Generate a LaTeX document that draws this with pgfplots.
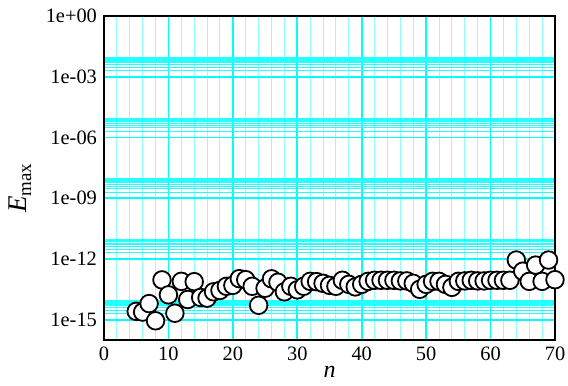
\documentclass[border=0pt]{standalone}
\usepackage{pgfplots}
\pgfplotsset{compat=1.18}
\usepackage{fontspec}
\setmainfont{Liberation Serif}
\definecolor{cy}{RGB}{0,255,255}
\pgfplotstableread{
n E
5 2.6e-15
6 2.4e-15
7 6.3e-15
8 8.9e-16
9 9.3e-14
10 1.7e-14
11 2.1e-15
12 7.9e-14
13 1.0e-14
14 7.6e-14
15 1.26e-14
16 1.17e-14
17 2.4e-14
18 2.8e-14
19 4.5e-14
20 5.0e-14
21 1.07e-13
22 9.5e-14
23 4.5e-14
24 5.2e-15
25 3.6e-14
26 1.05e-13
27 7.1e-14
28 2.4e-14
29 4.5e-14
30 3.0e-14
31 4.5e-14
32 7.9e-14
33 7.6e-14
34 6.3e-14
35 5.0e-14
36 4.5e-14
37 8.9e-14
38 5.6e-14
39 4.2e-14
40 5.6e-14
41 7.9e-14
42 8.9e-14
43 8.9e-14
44 8.9e-14
45 8.9e-14
46 8.3e-14
47 8.3e-14
48 6.3e-14
49 3.2e-14
50 5.6e-14
51 7.9e-14
52 7.9e-14
53 5.6e-14
54 4.0e-14
55 7.9e-14
56 8.3e-14
57 8.9e-14
58 8.3e-14
59 8.3e-14
60 8.9e-14
61 8.9e-14
62 8.9e-14
63 8.9e-14
64 8.9e-13
65 2.5e-13
66 7.9e-14
67 5.0e-13
68 7.9e-14
69 8.9e-13
70 9.5e-14
}\datatable
\begin{document}
\begin{tikzpicture}
\begin{axis}[
  scale only axis,
  width=225.5pt, height=162pt,
  ymode=log,
  xmin=0, xmax=70, ymin=1e-16, ymax=1,
  xtick={0,10,...,70},
  minor x tick num=4,
  ytick={1e-15,1e-12,1e-9,1e-6,1e-3,1},
  yticklabels={1e-15,1e-12,1e-09,1e-06,1e-03,1e+00},
  minor ytick={2e-15,3e-15,4e-15,5e-15,6e-15,7e-15,8e-15,9e-15,
               2e-12,3e-12,4e-12,5e-12,6e-12,7e-12,8e-12,9e-12,
               2e-9,3e-9,4e-9,5e-9,6e-9,7e-9,8e-9,9e-9,
               2e-6,3e-6,4e-6,5e-6,6e-6,7e-6,8e-6,9e-6,
               2e-3,3e-3,4e-3,5e-3,6e-3,7e-3,8e-3,9e-3},
  grid=both,
  major grid style={cy, line width=0.9pt},
  minor x grid style={cy!45, line width=0.5pt},
  minor y grid style={cy!85, line width=0.55pt},
  major tick length=0pt, minor tick length=0pt,
  axis line style={black, line width=1pt},
  tick label style={font=\rmfamily\fontsize{10.2}{12}\selectfont},
  /pgf/number format/assume math mode=true,
  xlabel={\textit{n}},
  ylabel={\textit{E}\textsubscript{max}},
  every axis x label/.style={font=\rmfamily\fontsize{12}{14}\selectfont, at={(axis description cs:0.5,-0.099)}, anchor=center},
  every axis y label/.style={font=\rmfamily\fontsize{13.5}{15}\selectfont, at={(axis description cs:-0.186,0.47)}, anchor=center, rotate=90},
  clip=false,
]
\addplot[only marks, mark=*, mark size=4.4pt,
  mark options={fill=white, draw=black, line width=0.9pt}]
  table[x=n, y=E] {\datatable};
\end{axis}
\pgfresetboundingbox
\path[use as bounding box] ([xshift=-52pt, yshift=-22.5pt]current axis.south west)
  rectangle ([xshift=6.5pt, yshift=8pt]current axis.north east);
\end{tikzpicture}
\end{document}
